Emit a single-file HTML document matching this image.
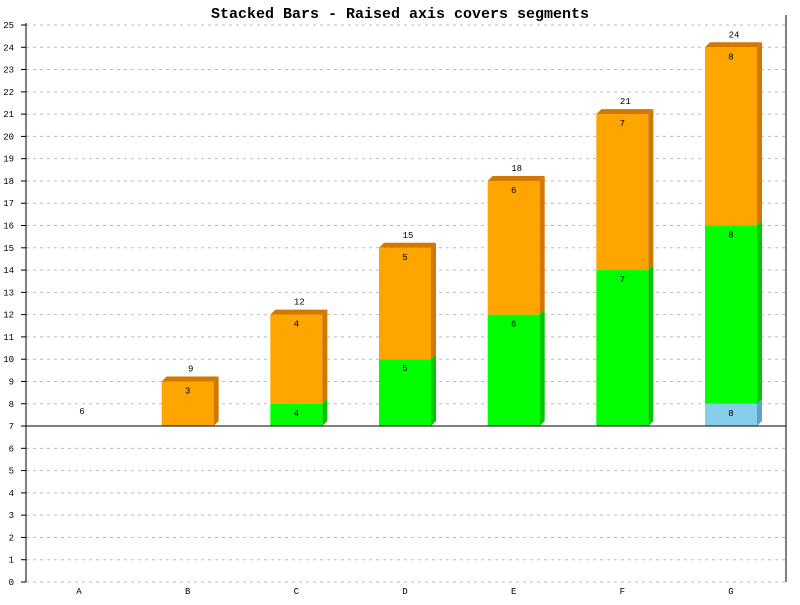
<!DOCTYPE html>
<html><head><meta charset="utf-8"><style>body{margin:0;background:#fff}svg text{font-family:"Liberation Mono","DejaVu Sans Mono",monospace}</style></head>
<body>
<svg id="c" width="800" height="600" xmlns="http://www.w3.org/2000/svg">
<rect width="800" height="600" fill="#fff"/>
<text x="400" y="18" text-anchor="middle" font-size="15" font-weight="bold">Stacked Bars - Raised axis covers segments</text>
<g id="grid"></g><g id="bars"></g><g id="axes"></g>
</svg>
<script>
const categories=["A","B","C","D","E","F","G"];
const blueVals=[2,3,4,5,6,7,8];
const greenVals=[2,3,4,5,6,7,8];
const orangeVals=[2,3,4,5,6,7,8];
const yTicks=[0,1,2,3,4,5,6,7,8,9,10,11,12,13,14,15,16,17,18,19,20,21,22,23,24,25];
const axisValue=7;
const NS="http://www.w3.org/2000/svg";
const L=26,R=786,T=25,B=582,yMax=25;
function y(v){return B-(v/yMax)*(B-T);}
function x(i){return 79+i*(731-79)/(categories.length-1);}
function mk(p,tag,a,txt){const e=document.createElementNS(NS,tag);for(const k in a)e.setAttribute(k,a[k]);if(txt!==undefined)e.textContent=txt;p.appendChild(e);return e;}
const grid=document.getElementById('grid'),bars=document.getElementById('bars'),axes=document.getElementById('axes');
yTicks.forEach(t=>{
  const g=mk(grid,'line',{x1:L,x2:R,y1:y(t),y2:y(t),stroke:'#bbb','stroke-dasharray':'3,4'});
  
  
  const tk=mk(axes,'line',{x1:L-5,x2:L,y1:y(t),y2:y(t),stroke:'#000'});
  
  
  const lb=mk(axes,'text',{x:L-12,y:y(t)+3,'text-anchor':'end','font-size':9},String(t));
  
  
});
const W=52,D=5;
const series=[[blueVals,'#87ceeb','#5ba3c7'],[greenVals,'#00ff00','#00c800'],[orangeVals,'#ffa500','#d07800']];
categories.forEach((c,i)=>{
  const cx=x(i),x0=cx-W/2;let base=0;
  series.forEach((s,si)=>{
    const v=s[0][i],top=base+v;
    if(top>axisValue){
      const b=Math.max(base,axisValue);
      const yt=y(top),yb=y(b);
      const r=mk(bars,'rect',{x:x0,y:yt,width:W,height:yb-yt,fill:s[1]});
      
      
      const sd=mk(bars,'polygon',{points:`${x0+W},${yt} ${x0+W+D},${yt-D} ${x0+W+D},${yb-D} ${x0+W},${yb}`,fill:s[2]});
      
      
      if(si===2||top===base+v&&si===series.length-1){}
      const lb=mk(bars,'text',{x:cx,y:yt+12,'text-anchor':'middle','font-size':9},String(v));
      
      
    }
    base=top;
  });
  const total=base,ytop=y(total);
  if(total>axisValue){
    const tp=mk(bars,'polygon',{points:`${x0},${ytop} ${x0+D},${ytop-D} ${x0+W+D},${ytop-D} ${x0+W},${ytop}`,fill:'#d07800'});
    
    
  }
  const ty=total>axisValue?ytop-10:y(axisValue)-12;
  const tl=mk(bars,'text',{x:cx+3,y:ty,'text-anchor':'middle','font-size':9},String(total));
  
  
  const xl=mk(axes,'text',{x:cx,y:594,'text-anchor':'middle','font-size':9},c);
  
  
});
let e=mk(axes,'line',{x1:L,x2:L,y1:T-2,y2:B,stroke:'#000'});


e=mk(axes,'line',{x1:R,x2:R,y1:T-10,y2:B,stroke:'#000'});


e=mk(axes,'line',{x1:L,x2:R,y1:y(axisValue),y2:y(axisValue),stroke:'#000'});


</script>
</body></html>
